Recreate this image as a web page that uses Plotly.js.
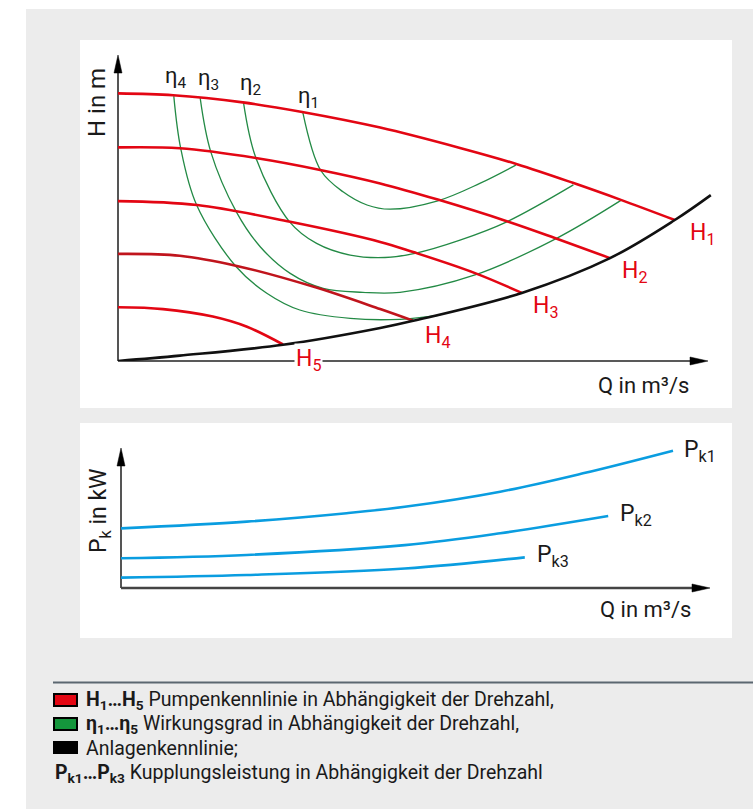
<!DOCTYPE html>
<html>
<head>
<meta charset="utf-8">
<script src="https://cdn.plot.ly/plotly-3.0.1.min.js"></script>
<style>
html,body{margin:0;padding:0;background:#fff;}
#chart{width:753px;height:809px;}
</style>
</head>
<body>
<div id="chart"></div>
<script>
// ---------- Data (top chart: Q vs H, arbitrary units) ----------
const h1Q = [0, 9.2, 20.8, 30.7, 43.7, 57.0, 66.5, 75.8, 83.7, 92.8];
const h1H = [89.2, 88.6, 86.2, 83.0, 77.8, 71.0, 65.6, 59.4, 53.8, 47.0];
const h2Q = [0, 10.3, 23.2, 33.7, 43.7, 53.3, 64.8, 72.8, 82.0];
const h2H = [71.2, 70.9, 67.6, 63.7, 59.2, 53.8, 46.6, 41.0, 34.3];
const h3Q = [0, 13.2, 28.7, 43.7, 49.2, 59.5, 67.3];
const h3H = [53.3, 52.0, 46.4, 39.7, 36.3, 29.3, 22.7];
const h4Q = [0, 10.3, 19.8, 32.5, 43.7, 49.2];
const h4H = [35.7, 35.1, 31.7, 24.8, 17.3, 13.4];
const h5Q = [0, 7.5, 15.8, 21.5, 27.5];
const h5H = [17.9, 17.3, 14.8, 11.4, 5.5];

const sysQ = [0, 10.3, 27.5, 43.7, 49.2, 67.3, 82.0, 92.8, 98.8];
const sysH = [0, 1.8, 5.4, 11.0, 13.4, 22.7, 34.3, 47.0, 55.3];

const eta1Q = [30.8, 33.8, 37.5, 41.5, 45.3, 53.3, 60.3, 66.3];
const eta1H = [82.9, 63.5, 56.4, 52.0, 50.6, 53.4, 59.2, 65.3];
const eta2Q = [20.9, 23.0, 28.6, 33.1, 38.7, 44.5, 49.5, 57.0, 64.8, 75.9];
const eta2H = [86.4, 67.6, 46.4, 39.2, 35.3, 34.5, 35.9, 40.3, 46.4, 58.7];
const eta3Q = [13.7, 15.45, 19.7, 23.7, 28.7, 34.2, 40.8, 47.0, 59.5, 73.1, 83.95];
const eta3H = [87.6, 69.8, 49.8, 38.1, 29.2, 24.2, 22.9, 22.9, 28.7, 40.9, 53.7];
const eta4Q = [9.3, 10.45, 13.1, 19.7, 24.8, 30.3, 38.7, 47.0, 53.7];
const eta4H = [88.3, 70.9, 52.0, 31.4, 22.6, 17.0, 14.2, 13.9, 15.3];

// ---------- Data (bottom chart: Q vs Pk) ----------
const pk1Q = [0, 20.95, 37.6, 47.3, 63.2, 77.0, 92.0];
const pk1P = [42.6, 47.4, 53.4, 58.0, 68.8, 81.9, 98.1];
const pk2Q = [0, 20.95, 47.3, 63.2, 81.2];
const pk2P = [21.2, 23.6, 30.6, 39.1, 51.4];
const pk3Q = [0, 20.95, 47.3, 67.3];
const pk3P = [7.4, 9.3, 13.9, 21.9];

// ---------- Labels ----------
const hLabels = ['H<sub>1</sub>', 'H<sub>2</sub>', 'H<sub>3</sub>', 'H<sub>4</sub>', 'H<sub>5</sub>'];
const etaLabels = ['η<sub>1</sub>', 'η<sub>2</sub>', 'η<sub>3</sub>', 'η<sub>4</sub>'];
const pkLabels = ['P<sub>k1</sub>', 'P<sub>k2</sub>', 'P<sub>k3</sub>'];
const legendLines = [
  '<b>H<sub>1</sub>…H<sub>5</sub></b> Pumpenkennlinie in Abhängigkeit der Drehzahl,',
  '<b>η<sub>1</sub>…η<sub>5</sub></b> Wirkungsgrad in Abhängigkeit der Drehzahl,',
  'Anlagenkennlinie;',
  '<b>P<sub>k1</sub>…P<sub>k3</sub></b> Kupplungsleistung in Abhängigkeit der Drehzahl'
];

// ---------- Styling ----------
const W = 753, Hh = 809;
const RED = '#e30613', RED_DARK = '#c0141c', GREEN = '#238a45', BLUE = '#0a9de0', BLACK = '#111111';
const FONT = 'Roboto, "Open Sans", sans-serif';
const PX = x => x / W;
const PY = y => 1 - y / Hh;

function line(x, y, color, width, xa, ya) {
  return {x: x, y: y, type: 'scatter', mode: 'lines', xaxis: xa, yaxis: ya,
          line: {color: color, width: width, shape: 'spline', smoothing: 1},
          hoverinfo: 'skip'};
}

const traces = [
  line(eta1Q, eta1H, GREEN, 1.3, 'x', 'y'),
  line(eta2Q, eta2H, GREEN, 1.3, 'x', 'y'),
  line(eta3Q, eta3H, GREEN, 1.3, 'x', 'y'),
  line(eta4Q, eta4H, GREEN, 1.3, 'x', 'y'),
  line(h1Q, h1H, RED, 2.6, 'x', 'y'),
  line(h2Q, h2H, RED, 2.6, 'x', 'y'),
  line(h3Q, h3H, RED, 2.6, 'x', 'y'),
  line(h4Q, h4H, RED_DARK, 2.6, 'x', 'y'),
  line(h5Q, h5H, RED, 2.6, 'x', 'y'),
  line(sysQ, sysH, BLACK, 2.6, 'x', 'y'),
  line(pk1Q, pk1P, BLUE, 2.6, 'x2', 'y2'),
  line(pk2Q, pk2P, BLUE, 2.6, 'x2', 'y2'),
  line(pk3Q, pk3P, BLUE, 2.6, 'x2', 'y2')
];

function rect(x0, y0, x1, y1, fill, lc, lw) {
  return {type: 'rect', xref: 'paper', yref: 'paper', x0: PX(x0), x1: PX(x1), y0: PY(y0), y1: PY(y1),
          fillcolor: fill, line: {color: lc || fill, width: lw || 0}, layer: 'below'};
}
function seg(x0, y0, x1, y1, color, width) {
  return {type: 'line', xref: 'paper', yref: 'paper', x0: PX(x0), x1: PX(x1), y0: PY(y0), y1: PY(y1),
          line: {color: color, width: width}, layer: 'below'};
}
function tri(p1, p2, p3, color) {
  const p = 'M' + PX(p1[0]) + ',' + PY(p1[1]) + ' L' + PX(p2[0]) + ',' + PY(p2[1]) + ' L' + PX(p3[0]) + ',' + PY(p3[1]) + ' Z';
  return {type: 'path', xref: 'paper', yref: 'paper', path: p, fillcolor: color, line: {color: color, width: 0.5}, layer: 'below'};
}

const shapes = [
  rect(26, 9, 753, 809, '#ececec'),
  rect(80, 40, 732, 408, '#ffffff'),
  rect(80, 423, 732, 638, '#ffffff'),
  // top axes
  seg(118, 361, 118, 68, '#555555', 2),
  tri([118, 55], [114, 73], [122, 73], '#000000'),
  seg(118, 361, 695, 361, '#222222', 1.5),
  tri([708, 361], [690, 357], [690, 365], '#000000'),
  // bottom axes
  seg(121, 588, 121, 462, '#555555', 2),
  tri([121, 448], [117, 466], [125, 466], '#000000'),
  seg(121, 588, 695, 588, '#444444', 2.5),
  tri([710, 588], [692, 584], [692, 592], '#000000'),
  // legend separator and swatches
  seg(53, 682.5, 753, 682.5, '#5b6770', 2),
  rect(54, 694, 77, 706, RED, '#000000', 2),
  rect(54, 718, 77, 730, '#14963c', '#000000', 2),
  rect(53, 741, 78, 754, '#000000', '#000000', 0)
];

function ann(text, x, y, size, color, opts) {
  return Object.assign({text: text, xref: 'paper', yref: 'paper', x: PX(x), y: PY(y),
    showarrow: false, xanchor: 'center', yanchor: 'middle',
    font: {family: FONT, size: size, color: color}}, opts || {});
}

const TXT = '#1a1a1a';
const annotations = [
  // axis titles
  ann('H in m', 97, 103, 24, TXT, {textangle: -90}),
  ann('Q in m³/s', 643, 385, 22, TXT),
  ann('P<sub>k</sub> in kW', 100, 511, 23, TXT, {textangle: -90}),
  ann('Q in m³/s', 645, 609, 22, TXT),
  // eta labels
  ann(etaLabels[3], 175, 78, 22, TXT),
  ann(etaLabels[2], 209, 80, 22, TXT),
  ann(etaLabels[1], 250, 84, 22, TXT),
  ann(etaLabels[0], 308, 97, 22, TXT),
  // H labels
  ann(hLabels[0], 702, 234, 23, RED),
  ann(hLabels[1], 634, 272, 23, RED),
  ann(hLabels[2], 545, 307, 23, RED),
  ann(hLabels[3], 437, 337, 23, RED),
  ann(hLabels[4], 308, 360, 23, RED, {bgcolor: '#ffffff', borderpad: 1}),
  // Pk labels
  ann(pkLabels[0], 700, 451, 23, TXT),
  ann(pkLabels[1], 636, 515, 23, TXT),
  ann(pkLabels[2], 553, 556, 23, TXT),
  // legend
  ann(legendLines[0], 84, 700, 19.5, TXT, {xanchor: 'left'}),
  ann(legendLines[1], 84, 724, 19.5, TXT, {xanchor: 'left'}),
  ann(legendLines[2], 84, 748, 19.5, TXT, {xanchor: 'left'}),
  ann(legendLines[3], 53, 773, 19.5, TXT, {xanchor: 'left'})
];

const axBase = {visible: false, showgrid: false, zeroline: false, fixedrange: true};
const layout = {
  width: W, height: Hh,
  margin: {l: 0, r: 0, t: 0, b: 0},
  paper_bgcolor: '#ffffff',
  plot_bgcolor: 'rgba(0,0,0,0)',
  showlegend: false,
  xaxis: Object.assign({}, axBase, {domain: [PX(118), PX(718)], range: [0, 100], anchor: 'y'}),
  yaxis: Object.assign({}, axBase, {domain: [PY(361), PY(55)], range: [0, 102], anchor: 'x'}),
  xaxis2: Object.assign({}, axBase, {domain: [PX(121), PX(721)], range: [0, 100], anchor: 'y2'}),
  yaxis2: Object.assign({}, axBase, {domain: [PY(588), PY(448)], range: [0, 100], anchor: 'x2'}),
  shapes: shapes,
  annotations: annotations
};

Plotly.newPlot('chart', traces, layout, {displayModeBar: false, staticPlot: true});
</script>
</body>
</html>
